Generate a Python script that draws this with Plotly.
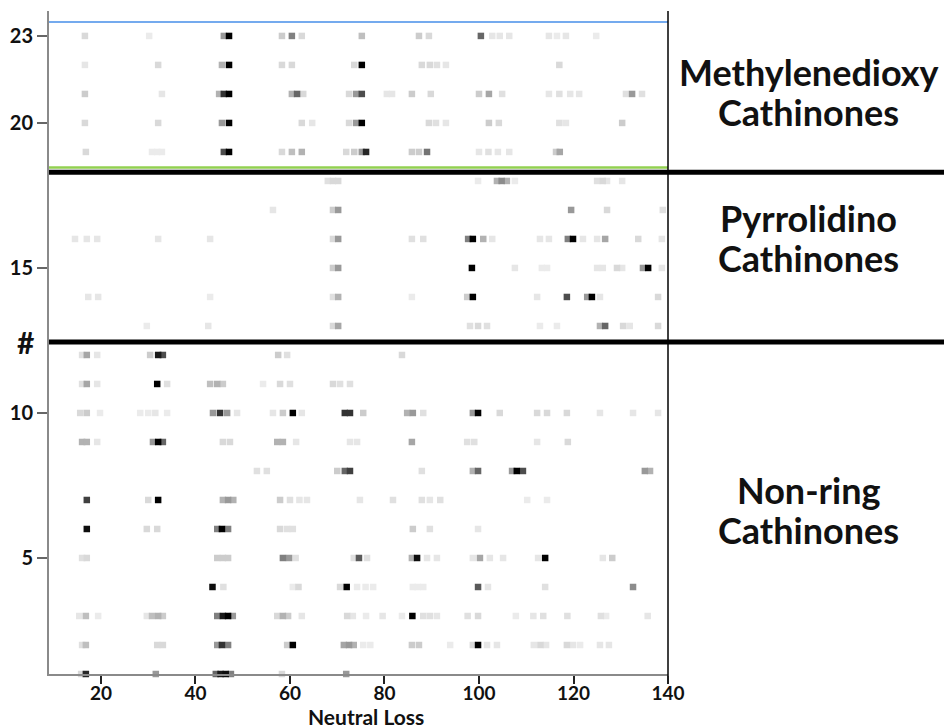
import plotly.graph_objects as go

# (neutral loss, relative intensity) per compound number
c01 = [(15.8,0.15),(16.8,0.85),(31.6,0.4),(44.3,0.6),(45.3,0.9),(46.4,0.95),(47.5,0.5),(58.3,0.15),(71.9,0.4)]
c02 = [(16.0,0.12),(16.8,0.25),(31.9,0.15),(33.1,0.15),(44.6,0.4),(45.6,0.8),(46.9,0.5),(59.4,0.2),(60.6,1.0),
       (71.4,0.35),(72.5,0.4),(73.5,0.3),(75.5,0.08),(77.0,0.08),(85.8,0.2),(87.3,0.2),(93.9,0.08),(98.7,0.15),
       (99.8,1.0),(101.7,0.1),(103.8,0.1),(111.6,0.1),(113.0,0.15),(114.2,0.1),(118.6,0.15),(119.9,0.1),
       (121.4,0.08),(125.6,0.1),(127.5,0.1)]
c03 = [(15.4,0.1),(16.8,0.25),(19.4,0.08),(29.7,0.1),(30.8,0.25),(32.1,0.3),(33.1,0.2),(44.6,0.5),(45.8,0.9),
       (46.9,1.0),(47.9,0.4),(57.3,0.15),(58.5,0.3),(59.6,0.2),(62.5,0.1),(72.1,0.15),(73.3,0.1),(76.1,0.08),
       (79.6,0.1),(83.7,0.08),(85.9,1.0),(88.2,0.12),(89.6,0.12),(91.1,0.1),(97.6,0.12),(99.8,0.15),(107.8,0.08),
       (111.5,0.1),(113.6,0.12),(118.7,0.12),(125.8,0.12),(126.9,0.08),(135.7,0.1)]
c04 = [(43.6,0.95),(45.9,0.12),(60.6,0.08),(61.8,0.15),(70.6,0.15),(72.0,1.0),(74.2,0.08),(76.0,0.08),(77.6,0.08),
       (86.0,0.08),(87.0,0.08),(88.2,0.08),(99.8,0.65),(101.9,0.1),(114.0,0.12),(132.6,0.45)]
c05 = [(16.0,0.12),(17.0,0.15),(44.6,0.2),(45.8,0.2),(46.9,0.2),(58.5,0.5),(59.8,0.4),(61.2,0.12),(73.5,0.12),
       (74.6,0.65),(76.3,0.12),(85.8,0.3),(86.9,0.95),(89.0,0.1),(91.1,0.1),(98.7,0.1),(100.2,0.35),(102.3,0.1),
       (105.1,0.1),(112.5,0.1),(114.0,1.0),(126.2,0.1),(128.2,0.2)]
c06 = [(17.0,0.95),(29.7,0.15),(31.9,0.15),(44.6,0.5),(45.6,1.0),(46.9,0.5),(57.9,0.15),(59.4,0.12),(60.6,0.12),
       (86.0,0.2),(89.6,0.12),(99.8,0.1)]
c07 = [(17.0,0.75),(30.0,0.15),(32.1,1.0),(45.8,0.3),(46.9,0.4),(48.0,0.3),(57.9,0.2),(60.0,0.12),(62.0,0.1),
       (63.6,0.1),(74.8,0.1),(81.8,0.12),(87.9,0.12),(89.6,0.1),(91.8,0.12),(110.2,0.08),(114.4,0.08)]
c08 = [(53.0,0.12),(55.1,0.12),(70.0,0.2),(71.6,0.6),(72.7,0.75),(87.9,0.12),(98.7,0.3),(99.8,0.6),(107.0,0.4),
       (108.0,1.0),(109.3,0.7),(135.1,0.4),(136.2,0.3)]
c09 = [(16.0,0.3),(17.0,0.3),(19.2,0.1),(31.0,0.4),(32.1,1.0),(33.1,0.6),(45.8,0.15),(47.3,0.15),(57.3,0.3),
       (58.5,0.3),(61.3,0.1),(72.7,0.1),(74.2,0.1),(85.8,0.35),(97.5,0.12),(99.0,0.12),(112.3,0.1),(118.8,0.15)]
c10 = [(15.6,0.15),(17.0,0.2),(19.8,0.08),(28.3,0.08),(30.0,0.08),(31.5,0.1),(34.0,0.08),(43.7,0.4),(45.2,0.8),
       (46.7,0.4),(48.8,0.1),(56.4,0.1),(58.5,0.2),(60.6,1.0),(62.5,0.1),(71.6,0.8),(72.7,0.8),(75.5,0.2),
       (84.8,0.3),(86.0,0.4),(88.2,0.12),(98.7,0.4),(99.8,1.0),(104.4,0.15),(112.3,0.15),(114.4,0.15),
       (118.6,0.15),(125.6,0.1),(132.6,0.1),(137.9,0.1)]
c11 = [(16.0,0.12),(17.0,0.35),(19.2,0.1),(31.9,1.0),(34.0,0.12),(43.1,0.25),(44.6,0.3),(45.8,0.2),(54.3,0.08),
       (57.9,0.15),(60.0,0.12),(69.1,0.15),(70.6,0.12),(72.7,0.12)]
c12 = [(16.0,0.12),(17.0,0.35),(19.2,0.1),(30.4,0.2),(32.1,0.9),(33.1,0.7),(57.5,0.2),(59.4,0.12),(83.7,0.15)]
c13 = [(29.7,0.08),(42.7,0.1),(69.1,0.15),(70.2,0.35),(98.1,0.12),(99.8,0.15),(101.7,0.12),(112.9,0.08),
       (116.5,0.08),(125.6,0.3),(126.7,0.6),(130.5,0.15),(131.9,0.1),(137.9,0.15)]
c14 = [(17.3,0.1),(19.4,0.1),(43.1,0.08),(69.1,0.12),(70.2,0.3),(85.8,0.08),(97.5,0.2),(98.7,1.0),(112.3,0.1),
       (118.6,0.7),(122.9,0.4),(123.9,1.0),(125.6,0.1),(137.9,0.15)]
c15 = [(69.1,0.2),(70.2,0.4),(98.5,1.0),(107.6,0.1),(113.3,0.08),(114.4,0.08),(125.0,0.1),(126.2,0.1),
       (129.2,0.15),(130.3,0.1),(134.7,0.4),(135.8,1.0),(138.7,0.1)]
c16 = [(14.5,0.1),(17.0,0.1),(19.2,0.1),(32.1,0.1),(43.1,0.1),(69.1,0.15),(70.2,0.4),(85.8,0.12),(88.2,0.12),
       (97.7,0.5),(98.7,1.0),(100.9,0.3),(102.8,0.1),(112.9,0.1),(114.8,0.1),(118.8,0.5),(119.9,1.0),
       (122.0,0.1),(125.0,0.1),(126.7,0.35),(133.7,0.15),(138.7,0.1)]
c17 = [(56.4,0.1),(69.1,0.2),(70.2,0.4),(119.5,0.4),(127.1,0.15),(138.9,0.12)]
c18 = [(68.0,0.12),(69.1,0.15),(70.2,0.15),(99.8,0.08),(103.8,0.3),(104.8,0.45),(105.9,0.3),(107.6,0.08),
       (125.0,0.12),(126.2,0.15),(127.1,0.1),(130.3,0.1)]
c19 = [(16.8,0.15),(30.8,0.08),(31.9,0.08),(32.9,0.08),(46.0,0.7),(47.1,1.0),(58.3,0.15),(60.4,0.25),
       (62.5,0.3),(71.9,0.15),(73.6,0.2),(75.2,0.4),(76.1,0.85),(85.8,0.2),(87.3,0.2),(89.0,0.55),(100.0,0.1),
       (102.0,0.12),(104.0,0.1),(106.4,0.1),(116.3,0.2),(117.1,0.35)]
c20 = [(16.6,0.15),(32.1,0.15),(45.6,0.4),(47.1,1.0),(62.5,0.15),(64.7,0.1),(72.5,0.15),(74.0,0.4),(75.2,1.0),
       (89.4,0.15),(90.9,0.12),(93.0,0.1),(102.1,0.2),(104.2,0.15),(117.0,0.12),(118.4,0.1),(130.3,0.2)]
c21 = [(16.6,0.2),(32.9,0.1),(45.0,0.3),(46.0,0.8),(47.1,1.0),(60.4,0.3),(61.5,0.6),(62.8,0.15),(72.5,0.15),
       (74.0,0.4),(75.2,0.7),(80.5,0.1),(81.6,0.1),(85.8,0.2),(89.8,0.15),(100.0,0.2),(102.1,0.35),(104.9,0.12),
       (114.8,0.1),(117.0,0.12),(119.3,0.1),(121.2,0.1),(131.1,0.12),(132.4,0.4),(134.5,0.12)]
c22 = [(16.6,0.1),(32.1,0.15),(45.6,0.3),(47.1,1.0),(58.3,0.15),(60.4,0.15),(73.6,0.15),(75.2,1.0),(87.9,0.15),
       (89.6,0.15),(91.1,0.12),(93.0,0.1),(117.0,0.15)]
c23 = [(16.6,0.15),(30.2,0.08),(46.0,0.4),(47.1,1.0),(58.3,0.2),(60.4,0.5),(62.5,0.15),(75.2,0.25),(87.3,0.2),
       (89.4,0.15),(100.4,0.6),(102.8,0.1),(104.4,0.1),(106.4,0.1),(114.8,0.1),(116.5,0.08),(118.4,0.1),
       (124.8,0.08)]

compounds = [c01, c02, c03, c04, c05, c06, c07, c08, c09, c10, c11, c12,
             c13, c14, c15, c16, c17, c18, c19, c20, c21, c22, c23]

y_tick_vals = [5, 10, 15, 20, 23]
x_tick_vals = [20, 40, 60, 80, 100, 120, 140]
x_title = "Neutral Loss"
group_names = [("Methylenedioxy", "Cathinones"), ("Pyrrolidino", "Cathinones"), ("Non-ring", "Cathinones")]
group_centers = [21.07, 16.03, 6.66]
group_bounds = [18.3, 12.45]

pts = []
for num, peaks in enumerate(compounds, start=1):
    for loss, inten in peaks:
        pts.append((inten, loss, num))
pts.sort()
xs = [p[1] for p in pts]
ys = [p[2] for p in pts]
cols = []
for p in pts:
    g = int(round(255 * (1 - p[0])))
    cols.append(f"rgb({g},{g},{g})")

fig = go.Figure()
fig.add_trace(go.Scatter(
    x=xs, y=ys, mode="markers", cliponaxis=False,
    marker=dict(symbol="square", size=6.5, color=cols, line=dict(width=0)),
    hoverinfo="x+y", showlegend=False))

FONT = "Lato"
fig.update_layout(
    width=944, height=728,
    margin=dict(l=49, r=276, t=11, b=54),
    paper_bgcolor="white", plot_bgcolor="white",
    font=dict(family=FONT, color="#111111"),
    xaxis=dict(range=[9, 140], tickvals=x_tick_vals, ticks="outside", ticklen=8, tickwidth=2,
               tickcolor="#222222", showgrid=False, zeroline=False, showline=True,
               linecolor="#8a8a8a", linewidth=2, automargin=False, ticklabelstandoff=-7,
               tickfont=dict(family=FONT, size=19, weight="bold", color="#111111")),
    yaxis=dict(range=[1, 23.86], tickvals=y_tick_vals, ticks="outside", ticklen=10, tickwidth=2,
               tickcolor="#666666", showgrid=False, zeroline=False, showline=True,
               linecolor="#8a8a8a", linewidth=2, automargin=False,
               tickfont=dict(family=FONT, size=20, weight="bold", color="#111111")),
)

# x-axis title as a text placed at the bottom edge
fig.add_annotation(x=(366 - 49) / 619, y=-(716 - 674) / 663, xref="paper", yref="paper",
                   text=x_title, showarrow=False, xanchor="center", yanchor="middle",
                   font=dict(family=FONT, size=21, weight="bold", color="#111111"))

# row-group separators
fig.add_shape(type="line", xref="paper", yref="y", x0=0, x1=1, y0=23.48, y1=23.48,
              line=dict(color="#74aaee", width=2))
fig.add_shape(type="line", xref="paper", yref="y", x0=0, x1=1, y0=18.46, y1=18.46,
              line=dict(color="#92d050", width=2.5))
for yb in group_bounds:
    fig.add_shape(type="line", xref="paper", yref="y", x0=0, x1=(944 - 49) / 619, y0=yb, y1=yb,
                  line=dict(color="black", width=5))
fig.add_shape(type="line", xref="paper", yref="paper", x0=1, x1=1, y0=-0.003, y1=1,
              line=dict(color="black", width=1.5))

xc = (809 - 49) / 619
for (l1, l2), yc in zip(group_names, group_centers):
    fig.add_annotation(x=xc, y=yc + 0.7, xref="paper", yref="y", text=l1, showarrow=False,
                       xanchor="center", yanchor="middle",
                       font=dict(family=FONT, size=36, weight="bold", color="#111111"))
    fig.add_annotation(x=xc, y=yc - 0.7, xref="paper", yref="y", text=l2, showarrow=False,
                       xanchor="center", yanchor="middle",
                       font=dict(family=FONT, size=36, weight="bold", color="#111111"))

fig.add_annotation(x=(25 - 49) / 619, y=12.45, xref="paper", yref="y", text="#", showarrow=False,
                   xanchor="center", yanchor="middle",
                   font=dict(family=FONT, size=30, weight="bold", color="#111111"))

fig.write_html("out.html")
